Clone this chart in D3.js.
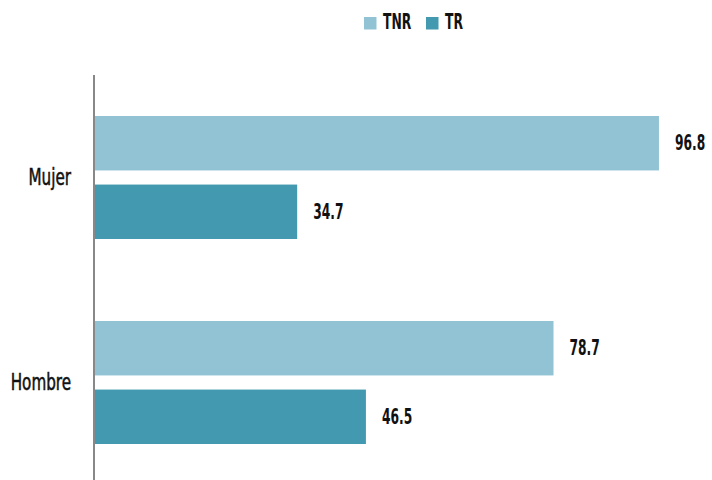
<!DOCTYPE html>
<html><head><meta charset="utf-8">
<script src="https://cdn.jsdelivr.net/npm/d3@7"></script>
<style>
body{margin:0;background:#fff;}
text{font-family:"DejaVu Sans Condensed","DejaVu Sans",sans-serif;font-stretch:condensed;}
</style></head><body>
<svg id="c" width="712" height="480"></svg>
<script>
const categories = ["Mujer", "Hombre"];
const seriesNames = ["TNR", "TR"];
const tnrValues = [96.8, 78.7];
const trValues = [34.7, 46.5];
const colors = ["#92c3d5", "#4299b0"];

const svg = d3.select("#c");
const x = d3.scaleLinear().domain([0, 100]).range([95, 677.6]);
const y = d3.scaleBand().domain(categories).range([75, 485]);
const inner = d3.scaleBand().domain(seriesNames).range([41, 164]).paddingInner(0.206);

const data = categories.map((c, i) => ({cat: c, vals: [tnrValues[i], trValues[i]]}));

const g = svg.selectAll("g.grp").data(data).enter().append("g")
  .attr("transform", d => `translate(0,${y(d.cat)})`);

g.selectAll("rect").data(d => d.vals.map((v, j) => ({v, s: seriesNames[j], j})))
  .enter().append("rect")
  .attr("x", x(0)).attr("y", d => inner(d.s))
  .attr("width", d => x(d.v) - x(0)).attr("height", inner.bandwidth())
  .attr("fill", d => colors[d.j]);

g.selectAll("text.val").data(d => d.vals.map((v, j) => ({v, s: seriesNames[j]})))
  .enter().append("text").attr("class", "val")
  .attr("transform", d => `translate(${x(d.v) + 16},${inner(d.s) + inner.bandwidth() / 2 + 7}) scale(0.65,1)`)
  .attr("font-size", 21).attr("font-weight", "bold").attr("fill", "#111")
  .text(d => d.v.toFixed(1));

// axis line
svg.append("line").attr("x1", 94).attr("x2", 94).attr("y1", 75).attr("y2", 480)
  .attr("stroke", "#888").attr("stroke-width", 2);

// category labels
svg.selectAll("text.cat").data(categories).enter().append("text").attr("class", "cat")
  .attr("transform", d => `translate(71,${y(d) + y.bandwidth() / 2 + 7}) scale(0.75,1)`)
  .attr("text-anchor", "end").attr("font-size", 22.5).attr("font-weight", "normal")
  .attr("stroke", "#111").attr("stroke-width", 0.5).attr("fill", "#111")
  .text(d => d);

// legend
const leg = svg.append("g");
const legX = [364, 426];
seriesNames.forEach((s, i) => {
  leg.append("rect").attr("x", legX[i]).attr("y", 17).attr("width", 12.5).attr("height", 12.5).attr("fill", colors[i]);
  leg.append("text").attr("transform", `translate(${legX[i] + 19},29.3) scale(0.67,1)`)
    .attr("font-size", 20.5).attr("font-weight", "bold").attr("fill", "#111").text(s);
});
</script>
</body></html>
